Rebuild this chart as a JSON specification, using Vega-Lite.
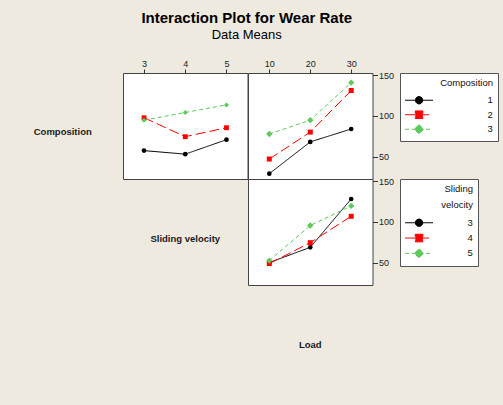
{
  "$schema": "https://vega.github.io/schema/vega-lite/v6.json",
  "background": "#EEEAE0",
  "padding": {"left": 0, "top": 11, "right": 5, "bottom": 13},
  "title": {
    "text": "Interaction Plot for Wear Rate",
    "subtitle": "Data Means",
    "font": "Liberation Sans",
    "fontSize": 15,
    "fontWeight": "bold",
    "color": "#000000",
    "subtitleFont": "Liberation Sans",
    "subtitleFontSize": 13,
    "subtitleColor": "#000000",
    "subtitlePadding": 3,
    "anchor": "middle",
    "frame": "bounds",
    "dx": -3,
    "offset": 16.5
  },
  "datasets": {
    "compSV": [
      {"g": "1", "x": 3, "y": 57.3}, {"g": "1", "x": 4, "y": 53.0}, {"g": "1", "x": 5, "y": 70.7},
      {"g": "2", "x": 3, "y": 97.6}, {"g": "2", "x": 4, "y": 74.4}, {"g": "2", "x": 5, "y": 85.4},
      {"g": "3", "x": 3, "y": 94.7}, {"g": "3", "x": 4, "y": 104.1}, {"g": "3", "x": 5, "y": 113.4}
    ],
    "compLoad": [
      {"g": "1", "x": 10, "y": 29.0}, {"g": "1", "x": 20, "y": 68.0}, {"g": "1", "x": 30, "y": 83.8},
      {"g": "2", "x": 10, "y": 47.0}, {"g": "2", "x": 20, "y": 80.0}, {"g": "2", "x": 30, "y": 131.0},
      {"g": "3", "x": 10, "y": 77.7}, {"g": "3", "x": 20, "y": 94.7}, {"g": "3", "x": 30, "y": 140.7}
    ],
    "svLoad": [
      {"g": "3", "x": 10, "y": 50.0}, {"g": "3", "x": 20, "y": 68.7}, {"g": "3", "x": 30, "y": 128.0},
      {"g": "4", "x": 10, "y": 48.8}, {"g": "4", "x": 20, "y": 74.4}, {"g": "4", "x": 30, "y": 106.8},
      {"g": "5", "x": 10, "y": 52.4}, {"g": "5", "x": 20, "y": 95.5}, {"g": "5", "x": 30, "y": 119.5}
    ],
    "lab1": [{"t": "Composition"}],
    "lab2": [{"t": "Sliding velocity"}],
    "lab3": [{"t": "Load"}],
    "none": []
  },
  "columns": 3,
  "spacing": 0,
  "bounds": "flush",
  "align": "each",
  "resolve": {
    "scale": {"x": "independent", "y": "independent", "color": "independent", "strokeDash": "independent", "shape": "independent", "stroke": "independent"},
    "legend": {"color": "independent", "strokeDash": "independent", "shape": "independent", "stroke": "independent"}
  },
  "concat": [
    {
      "width": 121.5, "height": 106,
      "view": {"stroke": "transparent"},
      "data": {"name": "lab1"},
      "mark": {"type": "text", "font": "Liberation Sans", "fontSize": 9.5, "fontWeight": "bold", "color": "#1a1a1a", "dy": 6, "dx": 1},
      "encoding": {"text": {"field": "t", "type": "nominal"}}
    },
    {
      "width": 124.5, "height": 106,
      "view": {"fill": "white", "stroke": "#444444", "strokeWidth": 1},
      "data": {"name": "compSV"},
      "encoding": {
        "x": {"field": "x", "type": "quantitative", "scale": {"domain": [2.49, 5.51], "nice": false, "zero": false},
              "axis": {"orient": "top", "values": [3, 4, 5], "title": null, "grid": false, "domain": false, "tickSize": 4, "tickColor": "#333333", "labelPadding": 1, "labelFlush": false, "labelFont": "Liberation Sans", "labelFontSize": 9, "labelColor": "#222222"}},
        "y": {"field": "y", "type": "quantitative", "scale": {"domain": [22.5, 152.5], "nice": false, "zero": false}, "axis": null},
        "color": {"field": "g", "type": "nominal", "scale": {"domain": ["1", "2", "3"], "range": ["#000000", "#ff0000", "#5ec95a"]}, "legend": null}
      },
      "layer": [
        {"mark": {"type": "line", "strokeWidth": 1},
         "encoding": {"strokeDash": {"field": "g", "type": "nominal", "scale": {"domain": ["1", "2", "3"], "range": [[1, 0], [10, 4], [4, 3]]}, "legend": null}}},
        {"mark": {"type": "point", "filled": true, "opacity": 1},
         "encoding": {
           "shape": {"field": "g", "type": "nominal", "scale": {"domain": ["1", "2", "3"], "range": ["circle", "square", "diamond"]}, "legend": null},
           "size": {"field": "g", "type": "nominal", "scale": {"domain": ["1", "2", "3"], "range": [22, 25, 40]}, "legend": null}
         }}
      ]
    },
    {
      "width": 124.5, "height": 106,
      "view": {"fill": "white", "stroke": "#444444", "strokeWidth": 1},
      "data": {"name": "compLoad"},
      "encoding": {
        "x": {"field": "x", "type": "quantitative", "scale": {"domain": [4.8, 35.2], "nice": false, "zero": false},
              "axis": {"orient": "top", "values": [10, 20, 30], "title": null, "grid": false, "domain": false, "tickSize": 4, "tickColor": "#333333", "labelPadding": 1, "labelFlush": false, "labelFont": "Liberation Sans", "labelFontSize": 9, "labelColor": "#222222"}},
        "y": {"field": "y", "type": "quantitative", "scale": {"domain": [22.5, 152.5], "nice": false, "zero": false},
              "axis": {"orient": "right", "values": [50, 100, 150], "title": null, "grid": false, "domain": false, "tickSize": 5, "tickColor": "#333333", "labelPadding": 1, "labelFlush": false, "labelFont": "Liberation Sans", "labelFontSize": 9, "labelColor": "#222222"}}
      },
      "layer": [
        {"mark": {"type": "point", "filled": true, "opacity": 0, "strokeWidth": 1},
         "encoding": {
           "color": {"field": "g", "type": "nominal", "scale": {"domain": ["1", "2", "3"], "range": ["#000000", "#ff0000", "#5ec95a"]},
                     "legend": {
                       "title": "Composition",
                       "orient": "right",
                       "offset": 6,
                       "padding": 5,
                       "strokeColor": "#555555",
                       "fillColor": "white",
                       "titleFont": "Liberation Sans", "titleFontSize": 9.5, "titleFontWeight": "normal", "titleColor": "#111111",
                       "titleAnchor": "end", "titleAlign": "right", "titlePadding": 8,
                       "labelFont": "Liberation Sans", "labelFontSize": 9.5, "labelColor": "#111111",
                       "labelOffset": 63.7,
                       "symbolSize": 64, "symbolStrokeWidth": 1, "symbolOpacity": 1, "symbolOffset": 9.3,
                       "rowPadding": 1.5
                     }},
           "stroke": {"field": "g", "type": "nominal", "scale": {"domain": ["1", "2", "3"], "range": ["#000000", "#ff0000", "#5ec95a"]}},
           "shape": {"field": "g", "type": "nominal", "scale": {"domain": ["1", "2", "3"], "range": [
             "M-3.5,0L3.5,0M0.92,0A0.92,0.92,0,1,1,-0.92,0A0.92,0.92,0,1,1,0.92,0Z",
             "M-3.5,0L3.5,0M-0.95,-0.95L0.95,-0.95L0.95,0.95L-0.95,0.95Z",
             "M-3.5,0L3.5,0M0,-1.17L1.17,0L0,1.17L-1.17,0Z"]}},
           "strokeDash": {"field": "g", "type": "nominal", "scale": {"domain": ["1", "2", "3"], "range": [[1, 0], [10, 4], [4, 3]]}}
         }},
        {"mark": {"type": "line", "strokeWidth": 1},
         "encoding": {
           "color": {"field": "g", "type": "nominal"},
           "strokeDash": {"field": "g", "type": "nominal"}}},
        {"transform": [{"filter": "datum.g == '1'"}],
         "mark": {"type": "point", "filled": true, "opacity": 1, "shape": "circle", "size": 22},
         "encoding": {"color": {"field": "g", "type": "nominal"}}},
        {"transform": [{"filter": "datum.g == '2'"}],
         "mark": {"type": "point", "filled": true, "opacity": 1, "shape": "square", "size": 25},
         "encoding": {"color": {"field": "g", "type": "nominal"}}},
        {"transform": [{"filter": "datum.g == '3'"}],
         "mark": {"type": "point", "filled": true, "opacity": 1, "shape": "diamond", "size": 40},
         "encoding": {"color": {"field": "g", "type": "nominal"}}}
      ]
    },
    {
      "width": 121.5, "height": 106,
      "view": {"stroke": "transparent"},
      "data": {"name": "none"},
      "mark": "point"
    },
    {
      "width": 124.5, "height": 106,
      "view": {"stroke": "transparent"},
      "data": {"name": "lab2"},
      "mark": {"type": "text", "font": "Liberation Sans", "fontSize": 9.5, "fontWeight": "bold", "color": "#1a1a1a", "dy": 6.5},
      "encoding": {"text": {"field": "t", "type": "nominal"}}
    },
    {
      "width": 124.5, "height": 106,
      "view": {"fill": "white", "stroke": "#444444", "strokeWidth": 1},
      "data": {"name": "svLoad"},
      "encoding": {
        "x": {"field": "x", "type": "quantitative", "scale": {"domain": [4.8, 35.2], "nice": false, "zero": false}, "axis": null},
        "y": {"field": "y", "type": "quantitative", "scale": {"domain": [22.5, 152.5], "nice": false, "zero": false},
              "axis": {"orient": "right", "values": [50, 100, 150], "title": null, "grid": false, "domain": false, "tickSize": 5, "tickColor": "#333333", "labelPadding": 1, "labelFlush": false, "labelFont": "Liberation Sans", "labelFontSize": 9, "labelColor": "#222222"}}
      },
      "layer": [
        {"mark": {"type": "point", "filled": true, "opacity": 0, "strokeWidth": 1},
         "encoding": {
           "color": {"field": "g", "type": "nominal", "scale": {"domain": ["3", "4", "5"], "range": ["#000000", "#ff0000", "#5ec95a"]},
                     "legend": {
                       "title": ["Sliding\u00a0\u00a0\u00a0\u00a0\u00a0\u00a0\u00a0\u00a0\u00a0\u00a0\u00a0", "velocity\u00a0\u00a0\u00a0\u00a0\u00a0\u00a0\u00a0\u00a0\u00a0\u00a0\u00a0"],
                       "orient": "right",
                       "offset": 6,
                       "padding": 5,
                       "strokeColor": "#555555",
                       "fillColor": "white",
                       "titleFont": "Liberation Sans", "titleFontSize": 9.5, "titleFontWeight": "normal", "titleColor": "#111111",
                       "titleAnchor": "end", "titleAlign": "right", "titlePadding": 8.5, "titleLineHeight": 16,
                       "labelFont": "Liberation Sans", "labelFontSize": 9.5, "labelColor": "#111111",
                       "labelOffset": 43.7,
                       "labelExpr": "datum.label + '\u00a0\u00a0\u00a0\u00a0\u00a0\u00a0\u00a0\u00a0\u00a0\u00a0\u00a0'",
                       "symbolSize": 64, "symbolStrokeWidth": 1, "symbolOpacity": 1, "symbolOffset": 9.3,
                       "rowPadding": 2.3
                     }},
           "stroke": {"field": "g", "type": "nominal", "scale": {"domain": ["3", "4", "5"], "range": ["#000000", "#ff0000", "#5ec95a"]}},
           "shape": {"field": "g", "type": "nominal", "scale": {"domain": ["3", "4", "5"], "range": [
             "M-3.5,0L3.5,0M0.92,0A0.92,0.92,0,1,1,-0.92,0A0.92,0.92,0,1,1,0.92,0Z",
             "M-3.5,0L3.5,0M-0.95,-0.95L0.95,-0.95L0.95,0.95L-0.95,0.95Z",
             "M-3.5,0L3.5,0M0,-1.17L1.17,0L0,1.17L-1.17,0Z"]}},
           "strokeDash": {"field": "g", "type": "nominal", "scale": {"domain": ["3", "4", "5"], "range": [[1, 0], [10, 4], [4, 3]]}}
         }},
        {"mark": {"type": "line", "strokeWidth": 1},
         "encoding": {
           "color": {"field": "g", "type": "nominal"},
           "strokeDash": {"field": "g", "type": "nominal"}}},
        {"transform": [{"filter": "datum.g == '3'"}],
         "mark": {"type": "point", "filled": true, "opacity": 1, "shape": "circle", "size": 22},
         "encoding": {"color": {"field": "g", "type": "nominal"}}},
        {"transform": [{"filter": "datum.g == '4'"}],
         "mark": {"type": "point", "filled": true, "opacity": 1, "shape": "square", "size": 25},
         "encoding": {"color": {"field": "g", "type": "nominal"}}},
        {"transform": [{"filter": "datum.g == '5'"}],
         "mark": {"type": "point", "filled": true, "opacity": 1, "shape": "diamond", "size": 40},
         "encoding": {"color": {"field": "g", "type": "nominal"}}}
      ]
    },
    {
      "width": 121.5, "height": 106,
      "view": {"stroke": "transparent"},
      "data": {"name": "none"},
      "mark": "point"
    },
    {
      "width": 124.5, "height": 106,
      "view": {"stroke": "transparent"},
      "data": {"name": "none"},
      "mark": "point"
    },
    {
      "width": 124.5, "height": 106,
      "view": {"stroke": "transparent"},
      "data": {"name": "lab3"},
      "mark": {"type": "text", "font": "Liberation Sans", "fontSize": 9.5, "fontWeight": "bold", "color": "#1a1a1a", "dy": 6.5},
      "encoding": {"text": {"field": "t", "type": "nominal"}}
    }
  ]
}
